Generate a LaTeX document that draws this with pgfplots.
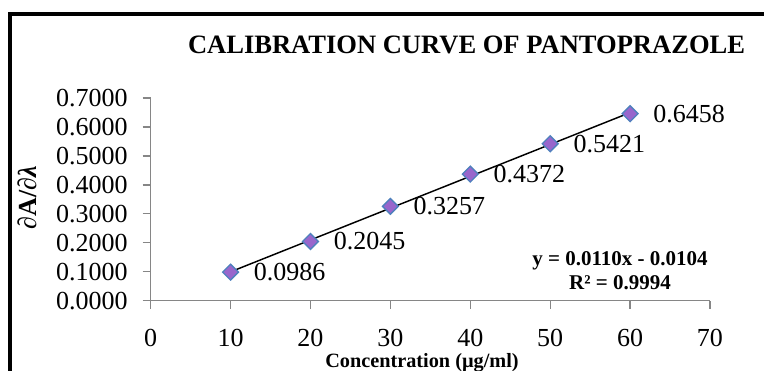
\documentclass[border=0pt]{standalone}
\usepackage{fontspec}
\setmainfont{Liberation Serif}
\usepackage{pgfplots}
\pgfplotsset{compat=1.18}
\usepackage{pgfplotstable}
\definecolor{mkfill}{HTML}{9966CC}
\definecolor{mkedge}{HTML}{4F81BD}
\definecolor{axgray}{HTML}{868686}
\pgfplotstableread{
x y lab
10 0.0986 0.0986
20 0.2045 0.2045
30 0.3257 0.3257
40 0.4372 0.4372
50 0.5421 0.5421
60 0.6458 0.6458
}\datatable
\begin{document}
\begin{tikzpicture}
\useasboundingbox (-113pt,-52.7pt) rectangle (460pt,225.5pt);
\draw[line width=2.5pt] (-105.5pt,-70pt) -- (-105.5pt,215pt) -- (480pt,215pt);
\begin{axis}[
  scale only axis, width=419.5pt, height=152pt,
  xmin=0, xmax=70, ymin=0, ymax=0.7,
  axis x line*=bottom, axis y line*=left,
  axis line style={axgray, line width=1pt, -},
  xtick={0,10,20,30,40,50,60,70},
  ytick={0,0.1,0.2,0.3,0.4,0.5,0.6,0.7},
  tick align=outside, major tick length=6pt,
  tick style={axgray, line width=1pt},
  /pgf/number format/assume math mode=true,
  yticklabel style={/pgf/number format/.cd, fixed, fixed zerofill, precision=4, /tikz/.cd, font=\fontsize{19.5}{23}\selectfont, inner sep=0pt, xshift=-11pt},
  xticklabel style={font=\fontsize{19.5}{23}\selectfont, inner sep=0pt, yshift=-15pt},
  clip=false,
]
\addplot[only marks, mark=square*, mark size=4.2pt,
  mark options={rotate=45, fill=mkfill, draw=mkedge, line width=1pt},
  nodes near coords, point meta=explicit symbolic,
  every node near coord/.append style={anchor=west, xshift=17pt, font=\fontsize{19.5}{23}\selectfont, inner sep=0pt, text=black}]
  table[x=x,y=y,meta=lab] {\datatable};
\addplot[black, line width=1.1pt] coordinates {(10,0.0996) (60,0.6496)};
\end{axis}
\node[anchor=base, font=\bfseries\fontsize{19.9}{24}\selectfont, inner sep=0pt] at (236.9pt,185pt) {CALIBRATION CURVE OF PANTOPRAZOLE};
\node[rotate=90, font=\bfseries\fontsize{19.5}{23}\selectfont, inner sep=0pt] at (-92.8pt,77.4pt) {{\itshape ∂}A/{\itshape ∂λ}};
\node[anchor=base, font=\bfseries\fontsize{15.2}{19}\selectfont, inner sep=0pt] at (203.5pt,-50.3pt) {Concentration (µg/ml)};
\node[anchor=base, font=\bfseries\fontsize{15.75}{19}\selectfont, inner sep=0pt] at (352pt,26pt) {y = 0.0110x - 0.0104};
\node[anchor=base, font=\bfseries\fontsize{15.75}{19}\selectfont, inner sep=0pt] at (352pt,8pt) {R² = 0.9994};
\end{tikzpicture}
\end{document}
